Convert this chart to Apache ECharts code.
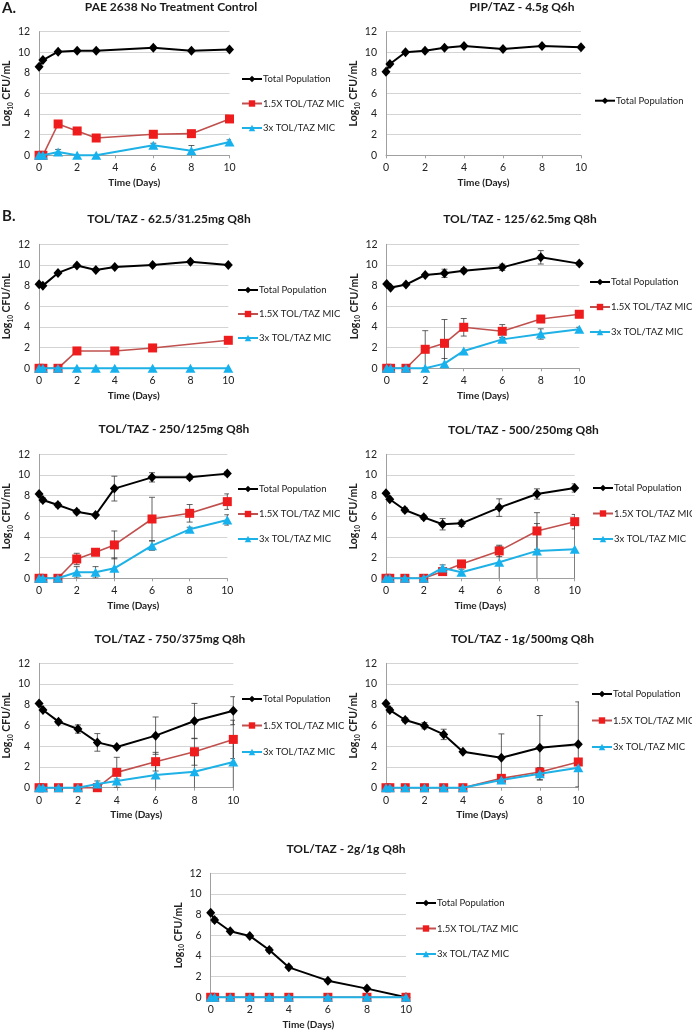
<!DOCTYPE html>
<html><head><meta charset="utf-8">
<script src="https://cdn.jsdelivr.net/npm/echarts@6/dist/echarts.min.js"></script>
<style>html,body{margin:0;padding:0;background:#fff}#c{width:692px;height:1033px}</style>
</head><body><div id="c"></div>
<script>
// ---------- DATA ----------
const days = [0, 0.2, 1, 2, 3, 4, 6, 8, 10];
const xTickLabels = ['0', '2', '4', '6', '8', '10'];
const yTickLabels = ['0', '2', '4', '6', '8', '10', '12'];
const seriesNames = ['Total Population', '1.5X TOL/TAZ MIC', '3x TOL/TAZ MIC'];
const panelTitles = ['PAE 2638 No Treatment Control', 'PIP/TAZ - 4.5g Q6h',
  'TOL/TAZ - 62.5/31.25mg Q8h', 'TOL/TAZ - 125/62.5mg Q8h',
  'TOL/TAZ - 250/125mg Q8h', 'TOL/TAZ - 500/250mg Q8h',
  'TOL/TAZ - 750/375mg Q8h', 'TOL/TAZ - 1g/500mg Q8h', 'TOL/TAZ - 2g/1g Q8h'];

// A. No treatment control
const ctrlTotal = [8.6, 9.25, 10.06, 10.16, 10.16, null, 10.45, 10.16, 10.26];
const ctrl15x   = [0, 0, 3.04, 2.36, 1.68, null, 2.04, 2.1, 3.53];
const ctrl3x    = [0, 0, 0.32, 0, 0, null, 0.97, 0.45, 1.3];
const ctrl3xErr = [null, null, 0.25, null, null, null, 0.2, 0.5, 0.2];
// A. PIP/TAZ
const pipTotal = [8.12, 8.87, 10.0, 10.16, 10.45, 10.6, 10.32, 10.6, 10.5];
// B. 62.5/31.25 mg
const d62Total = [8.13, 8.0, 9.23, 9.94, 9.52, 9.81, 10.0, 10.32, 10.0];
const d62x15   = [0, 0, 0, 1.68, null, 1.68, 1.97, null, 2.71];
const d62x3    = [0, 0, 0, 0, 0, 0, 0, 0, 0];
// B. 125/62.5 mg
const d125Total    = [8.16, 7.8, 8.1, 9.03, 9.19, 9.45, 9.77, 10.74, 10.13];
const d125TotalErr = [null, null, null, null, 0.4, 0.2, 0.3, 0.65, 0.15];
const d125x15      = [0, 0, 0, 1.84, 2.42, 3.97, 3.58, 4.77, 5.23];
const d125x15Err   = [null, null, null, 1.8, 2.3, 0.85, 0.65, 0.3, 0.3];
const d125x3       = [0, 0, 0, 0, 0.45, 1.68, 2.8, 3.32, 3.77];
const d125x3Err    = [null, null, null, null, 0.5, null, 0.2, 0.5, 0.2];
// B. 250/125 mg
const d250Total    = [8.16, 7.58, 7.1, 6.45, 6.13, 8.68, 9.77, 9.77, 10.13];
const d250TotalErr = [null, 0.2, 0.2, 0.2, null, 1.2, 0.45, 0.2, 0.2];
const d250x15      = [0, 0, 0, 1.87, 2.52, 3.23, 5.74, 6.29, 7.42];
const d250x15Err   = [null, null, null, 0.55, 0.2, 1.35, 2.1, 0.85, 0.75];
const d250x3       = [0, 0, 0, 0.58, 0.58, 0.97, 3.16, 4.74, 5.65];
const d250x3Err    = [null, null, null, 0.55, 0.55, 1.0, 0.45, 0.2, 0.5];
// B. 500/250 mg
const d500Total    = [8.23, 7.65, 6.61, 5.9, 5.23, 5.32, 6.84, 8.16, 8.74];
const d500TotalErr = [null, null, 0.2, 0.2, 0.55, 0.3, 0.85, 0.5, 0.4];
const d500x15      = [0, 0, 0, 0, 0.65, 1.39, 2.65, 4.58, 5.48];
const d500x15Err   = [null, null, null, null, 0.2, 0.2, 0.55, 1.77, 0.7];
const d500x3       = [0, 0, 0, 0, 1.0, 0.58, 1.55, 2.65, 2.8];
const d500x3Err    = [null, null, null, null, 0.3, 0.3, 1.55, 2.65, 2.8];
// B. 750/375 mg
const d750Total    = [8.13, 7.49, 6.37, 5.66, 4.37, 3.92, 5.02, 6.43, 7.43];
const d750TotalErr = [null, null, 0.2, 0.4, 0.85, null, 1.8, 1.7, 1.35];
const d750x15      = [0, 0, 0, 0, 0, 1.48, 2.51, 3.47, 4.66];
const d750x15Err   = [null, null, null, null, null, 1.45, 0.9, 1.3, 1.85];
const d750x3       = [0, 0, 0, 0, 0.35, 0.64, 1.22, 1.54, 2.48];
const d750x3Err    = [null, null, null, null, 0.3, 0.2, 1.22, 1.54, 2.48];
// B. 1g/500 mg
const d1000Total    = [8.13, 7.49, 6.53, 5.98, 5.14, 3.47, 2.89, 3.86, 4.18];
const d1000TotalErr = [null, 0.2, 0.2, 0.3, 0.5, null, 2.3, 3.1, 4.1];
const d1000x15      = [0, 0, 0, 0, 0, 0, 0.9, 1.51, 2.48];
const d1000x3       = [0, 0, 0, 0, 0, 0, 0.74, 1.35, 1.93];
const d1000x3Err    = [null, null, null, null, null, null, null, 0.6, null];
// B. 2g/1g
const d2000Total    = [8.19, 7.48, 6.39, 5.94, 4.58, 2.9, 1.61, 0.84, 0];
const d2000TotalErr = [null, 0.2, null, null, 0.2, null, null, null, null];
const d2000x15      = [0, 0, 0, 0, 0, 0, 0, 0, 0];
const d2000x3       = [0, 0, 0, 0, 0, 0, 0, 0, 0];

// ---------- PANELS ----------
const panels = [
  {vals: [ctrlTotal, ctrl15x, ctrl3x], errs: [null, null, ctrl3xErr]},
  {vals: [pipTotal], errs: [null]},
  {vals: [d62Total, d62x15, d62x3], errs: [null, null, null]},
  {vals: [d125Total, d125x15, d125x3], errs: [d125TotalErr, d125x15Err, d125x3Err]},
  {vals: [d250Total, d250x15, d250x3], errs: [d250TotalErr, d250x15Err, d250x3Err]},
  {vals: [d500Total, d500x15, d500x3], errs: [d500TotalErr, d500x15Err, d500x3Err]},
  {vals: [d750Total, d750x15, d750x3], errs: [d750TotalErr, d750x15Err, d750x3Err]},
  {vals: [d1000Total, d1000x15, d1000x3], errs: [d1000TotalErr, null, d1000x3Err]},
  {vals: [d2000Total, d2000x15, d2000x3], errs: [d2000TotalErr, null, null]}
];

// layout: grid box, title center, legend (x, first row y, row spacing)
const layout = [
  {g: [35, 31.7, 194.5, 123.6], t: [171, 7], l: [241, 79, 24.5]},
  {g: [386, 31.7, 195, 123.6], t: [522, 7.5], l: [594, 100.7, 24.5]},
  {g: [34.3, 244.3, 194, 124], t: [169, 219], l: [237, 290, 24]},
  {g: [386.7, 244.3, 192.6, 124], t: [520, 219.5], l: [589, 282, 25]},
  {g: [34.3, 454.3, 193, 124], t: [174, 429], l: [237, 489, 25]},
  {g: [386, 454.3, 188.7, 124], t: [523.5, 430], l: [592, 488, 25.5]},
  {g: [34.3, 663.3, 199, 124.4], t: [170, 639], l: [241, 699, 26.5]},
  {g: [386, 663.3, 192.3, 124.4], t: [522.5, 639], l: [591, 694, 26.5]},
  {g: [210.7, 873.3, 195.3, 124], t: [346, 849], l: [415, 903, 25.5]}
];

const FONT = 'Lato, "Open Sans", sans-serif';
const styles = [
  {symbol: 'diamond', symbolSize: [9, 10], line: '#000000', mark: '#000000', width: 2},
  {symbol: 'rect', symbolSize: 9, line: '#c0504d', mark: '#ee1c1c', width: 1.6},
  {symbol: 'triangle', symbolSize: [10, 9], line: '#1eb1e6', mark: '#17b2ee', width: 2}
];

function errRender(params, api) {
  const x = api.value(0), lo = api.value(1), hi = api.value(2), capLo = api.value(3);
  const p1 = api.coord([x, hi]), p2 = api.coord([x, lo]);
  const c = 3, st = {stroke: '#3a3a3a', lineWidth: 0.8};
  const ch = [
    {type: 'line', shape: {x1: p1[0], y1: p1[1], x2: p2[0], y2: p2[1]}, style: st},
    {type: 'line', shape: {x1: p1[0] - c, y1: p1[1], x2: p1[0] + c, y2: p1[1]}, style: st}
  ];
  if (capLo) ch.push({type: 'line', shape: {x1: p2[0] - c, y1: p2[1], x2: p2[0] + c, y2: p2[1]}, style: st});
  return {type: 'group', children: ch};
}

const grid = [], xAxis = [], yAxis = [], series = [], legend = [], graphic = [];
panels.forEach((p, i) => {
  const L = layout[i];
  grid.push({left: L.g[0], top: L.g[1], width: L.g[2], height: L.g[3], containLabel: false});
  xAxis.push({
    type: 'value', gridIndex: i, min: 0, max: 10, interval: 2,
    name: 'Time (Days)', nameLocation: 'middle', nameGap: 22,
    nameTextStyle: {fontFamily: FONT, fontSize: 10, fontWeight: 'bold', color: '#222'},
    axisLine: {show: true, lineStyle: {color: '#a0a0a0', width: 1}},
    axisTick: {show: true, length: 3, lineStyle: {color: '#a0a0a0'}},
    axisLabel: {fontFamily: FONT, fontSize: 10.5, color: '#222', margin: 7,
      formatter: v => xTickLabels[Math.round(v / 2)]},
    splitLine: {show: false}
  });
  yAxis.push({
    type: 'value', gridIndex: i, min: 0, max: 12, interval: 2,
    name: '{a|Log}{b|10}{a| CFU/mL}', nameLocation: 'middle', nameGap: 20, nameRotate: 90,
    nameTextStyle: {rich: {
      a: {fontFamily: FONT, fontSize: 10.5, fontWeight: 'bold', color: '#222', lineHeight: 14, verticalAlign: 'bottom'},
      b: {fontFamily: FONT, fontSize: 6.5, fontWeight: 'bold', color: '#222', lineHeight: 14, verticalAlign: 'bottom', padding: [0, 0, -2, 0]}
    }},
    axisLine: {show: true, lineStyle: {color: '#a0a0a0', width: 1}},
    axisTick: {show: false},
    axisLabel: {fontFamily: FONT, fontSize: 10.5, color: '#222', margin: 9,
      formatter: v => yTickLabels[Math.round(v / 2)]},
    splitLine: {show: true, lineStyle: {color: '#d4d4d4', width: 1}}
  });
  // error bars first (beneath)
  p.errs.forEach((e, k) => {
    if (!e) return;
    const d = [];
    e.forEach((v, j) => {
      if (v == null || p.vals[k][j] == null) return;
      const y = p.vals[k][j];
      const lo = y - v;
      d.push([days[j], Math.max(0, lo), y + v, lo > 0 ? 1 : 0]);
    });
    series.push({type: 'custom', xAxisIndex: i, yAxisIndex: i, renderItem: errRender,
      data: d, encode: {x: 0, y: [1, 2]}, clip: true, z: 1, silent: true});
  });
  p.vals.forEach((vals, k) => {
    const s = styles[k];
    const d = [];
    vals.forEach((v, j) => { if (v != null) d.push([days[j], v]); });
    series.push({
      type: 'line', name: seriesNames[k], xAxisIndex: i, yAxisIndex: i, data: d,
      symbol: s.symbol, symbolSize: s.symbolSize, showAllSymbol: true,
      lineStyle: {color: s.line, width: s.width},
      itemStyle: {color: s.mark, borderWidth: 0},
      z: 2 + k, animation: false, clip: false
    });
  });
  const names = seriesNames.slice(0, p.vals.length);
  legend.push({
    data: names, orient: 'vertical', left: L.l[0], top: L.l[1] - 6.5, padding: 0,
    itemGap: L.l[2] - 13, itemWidth: 20, itemHeight: 8, selectedMode: false,
    textStyle: {fontFamily: FONT, fontSize: 9.5, color: '#222', lineHeight: 13, padding: [0, 0, 0, -4]}
  });
  graphic.push({type: 'text', x: L.t[0], y: L.t[1],
    style: {text: panelTitles[i], x: 0, y: 0, textAlign: 'center', textVerticalAlign: 'middle',
      font: 'bold 12px ' + FONT, fill: '#1a1a1a'}});
});
graphic.push({type: 'text', x: 2, y: 8, style: {text: 'A.', textVerticalAlign: 'middle', font: 'bold 15px ' + FONT, fill: '#1a1a1a'}});
graphic.push({type: 'text', x: 2, y: 216, style: {text: 'B.', textVerticalAlign: 'middle', font: 'bold 15px ' + FONT, fill: '#1a1a1a'}});

const chart = echarts.init(document.getElementById('c'), null, {renderer: 'canvas'});
chart.setOption({
  animation: false, backgroundColor: '#ffffff',
  grid, xAxis, yAxis, series, legend, graphic
});
</script></body></html>
